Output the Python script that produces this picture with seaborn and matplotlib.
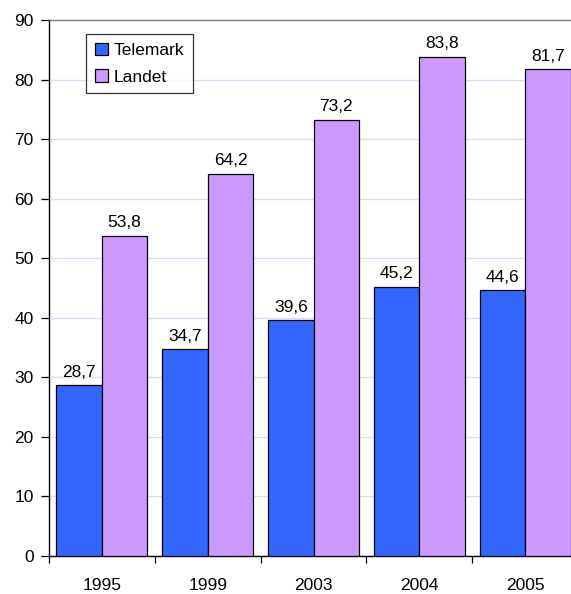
import pandas as pd
import matplotlib
matplotlib.use("Agg")
import matplotlib.pyplot as plt
import seaborn as sns

# ── Data ─────────────────────────────────────────────────────
years = ["1995", "1999", "2003", "2004", "2005"]
telemark = [28.7, 34.7, 39.6, 45.2, 44.6]
landet = [53.8, 64.2, 73.2, 83.8, 81.7]
series = ["Telemark", "Landet"]
colors = ["#3366FF", "#CC99FF"]

df = pd.DataFrame({
    "År": years * 2,
    "Verdi": telemark + landet,
    "Serie": [series[0]] * len(years) + [series[1]] * len(years),
})

sns.set_theme(style="white")
plt.rcParams["font.family"] = ["Liberation Sans", "DejaVu Sans"]
plt.rcParams["text.color"] = "black"
plt.rcParams["xtick.color"] = "black"
plt.rcParams["ytick.color"] = "black"
plt.rcParams["xtick.labelcolor"] = "black"
plt.rcParams["ytick.labelcolor"] = "black"

fs = 12.5

fig = plt.figure(figsize=(5.71, 5.94), dpi=100)
ax = fig.add_axes([49 / 571, 1 - 556 / 594, 529 / 571, 536 / 594])

sns.barplot(data=df, x="År", y="Verdi", hue="Serie", hue_order=series,
            palette=colors, saturation=1, width=0.86, edgecolor="black",
            linewidth=0.9, ax=ax, zorder=3)

# value labels with decimal comma
for cont in ax.containers:
    labels = [f"{b.get_height():.1f}".replace(".", ",") for b in cont]
    ax.bar_label(cont, labels=labels, padding=4, fontsize=fs, color="black")

ax.set_ylim(0, 90)
ax.set_xlim(-0.5, 4.5)
ax.set_yticks(range(0, 91, 10))
ax.yaxis.grid(True, color="#DCDCF8", linewidth=1, zorder=0)
ax.set_axisbelow(True)
ax.set_xlabel("")
ax.set_ylabel("")

ax.tick_params(axis="y", left=True, length=6, width=0.9, pad=5, labelsize=fs)
ax.tick_params(axis="x", which="major", length=0, pad=16, labelsize=fs)
ax.set_xticks([i - 0.5 for i in range(len(years) + 1)], minor=True)
ax.tick_params(axis="x", which="minor", bottom=True, length=5, width=0.9)

for side in ["left", "bottom"]:
    ax.spines[side].set_color("black")
    ax.spines[side].set_linewidth(1)
ax.spines["top"].set_color("#808080")
ax.spines["top"].set_linewidth(1)
ax.spines["right"].set_visible(False)

leg = ax.legend(loc="upper left", bbox_to_anchor=(0.07, 0.974), borderaxespad=0,
                frameon=True, fancybox=False, edgecolor="black", fontsize=fs,
                handlelength=0.75, handleheight=0.75, handletextpad=0.35,
                labelspacing=0.65, borderpad=0.5)
leg.get_frame().set_linewidth(0.9)

fig.savefig("out.png", dpi=100)
